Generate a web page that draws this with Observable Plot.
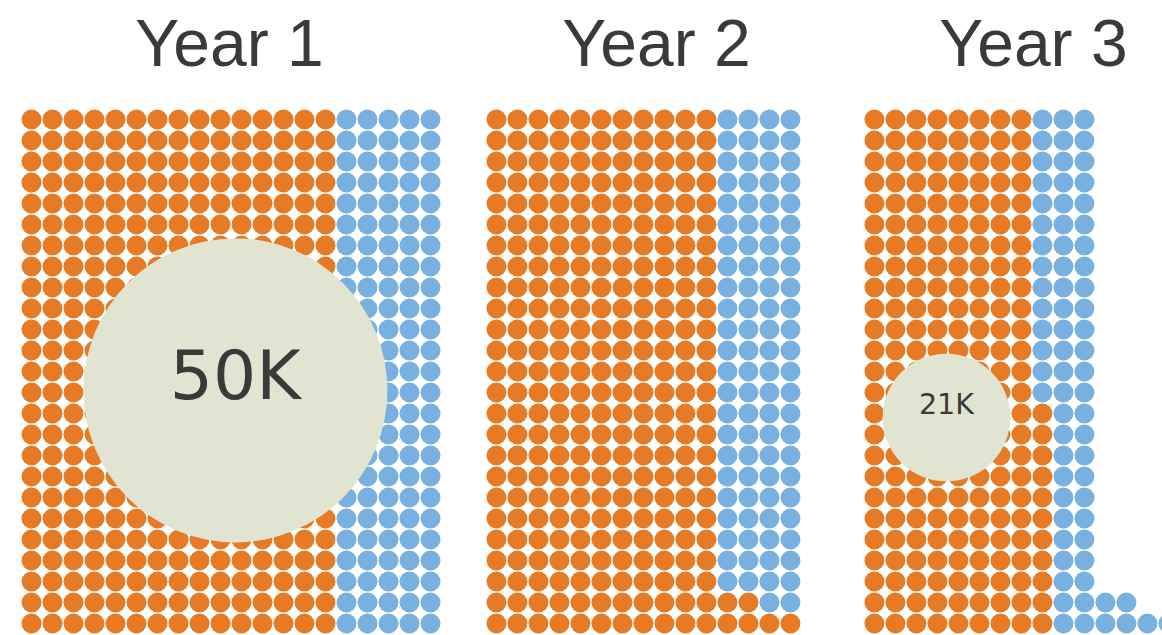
<!DOCTYPE html>
<html>
<head>
<meta charset="utf-8">
<script src="https://cdn.jsdelivr.net/npm/d3@7"></script>
<script src="https://cdn.jsdelivr.net/npm/@observablehq/plot@0.6"></script>
<style>
  html, body { margin: 0; padding: 0; background: #ffffff; }
  #chart svg { display: block; }
</style>
</head>
<body>
<div id="chart"></div>
<script>
// Panels, one per year.
const years = ["Year 1", "Year 2", "Year 3"];

// The two groups of dots, filled left to right.
const groups = ["first", "second"];

// One dot = 100 people. Each run of rows (top to bottom) is
// [firstRow, lastRow, firstGroupDots, secondGroupDots].
const year1Rows = [[0, 24, 15, 5]];
const year2Rows = [[0, 22, 11, 4], [23, 23, 13, 2], [24, 24, 15, 0]];
const year3Rows = [[0, 13, 8, 3], [14, 22, 9, 2], [23, 23, 9, 4], [24, 24, 9, 6]];

// Overlay bubbles with their totals.
const bubbleYears = ["Year 1", "Year 3"];
const bubbleValues = [50000, 21000];
const bubbleLabels = ["50K", "21K"];

// ---- layout (grid units: one unit = one dot pitch) ----
const pitch = 21;
const panelStart = {"Year 1": 0, "Year 2": 22.14, "Year 3": 40.14};
const titleCenter = {"Year 1": 9.43, "Year 2": 29.76, "Year 3": 47.71};
const bubbleCenter = {"Year 1": [9.71, 12.9], "Year 3": [43.57, 14.19]};
const rowsByYear = {"Year 1": year1Rows, "Year 2": year2Rows, "Year 3": year3Rows};

const cells = [];
for (const year of years) {
  for (const [r0, r1, nFirst, nSecond] of rowsByYear[year]) {
    for (let row = r0; row <= r1; ++row) {
      for (let c = 0; c < nFirst + nSecond; ++c) {
        cells.push({
          year,
          x: panelStart[year] + c,
          y: row,
          group: c < nFirst ? groups[0] : groups[1]
        });
      }
    }
  }
}

const bubbles = bubbleYears.map((year, i) => ({
  year,
  x: bubbleCenter[year][0],
  y: bubbleCenter[year][1],
  value: bubbleValues[i],
  label: bubbleLabels[i]
}));

const titles = years.map(year => ({year, x: titleCenter[year]}));

const W = 1162, H = 635;
const chart = Plot.plot({
  width: W,
  height: H,
  margin: 0,
  style: {fontFamily: "'Liberation Sans', Arial, Helvetica, sans-serif", background: "#ffffff"},
  x: {domain: [-31 / pitch, (W - 31) / pitch], axis: null},
  y: {domain: [-119 / pitch, (H - 119) / pitch], reverse: true, axis: null},
  r: {type: "linear", domain: [0, 50000], range: [0, 152]},
  color: {type: "ordinal", domain: groups, range: ["#E67A25", "#78B0E0"]},
  marks: [
    Plot.dot(cells, {x: "x", y: "y", r: 10, fill: "group", stroke: null}),
    Plot.dot(bubbles, {x: "x", y: "y", r: "value", fill: "#E0E4D0", stroke: null}),
    Plot.text(bubbles, {
      x: "x", y: "y", text: "label",
      fontSize: d => d.value * 68 / 50000,
      fontFamily: "'DejaVu Sans', Verdana, sans-serif",
      dy: -13, fill: "#3a3a3a", textAnchor: "middle"
    }),
    Plot.text(titles, {
      x: "x", y: -3.57, text: "year",
      fontSize: 66, fill: "#3a3a3a", textAnchor: "middle"
    })
  ]
});

document.getElementById("chart").appendChild(chart);
</script>
</body>
</html>
